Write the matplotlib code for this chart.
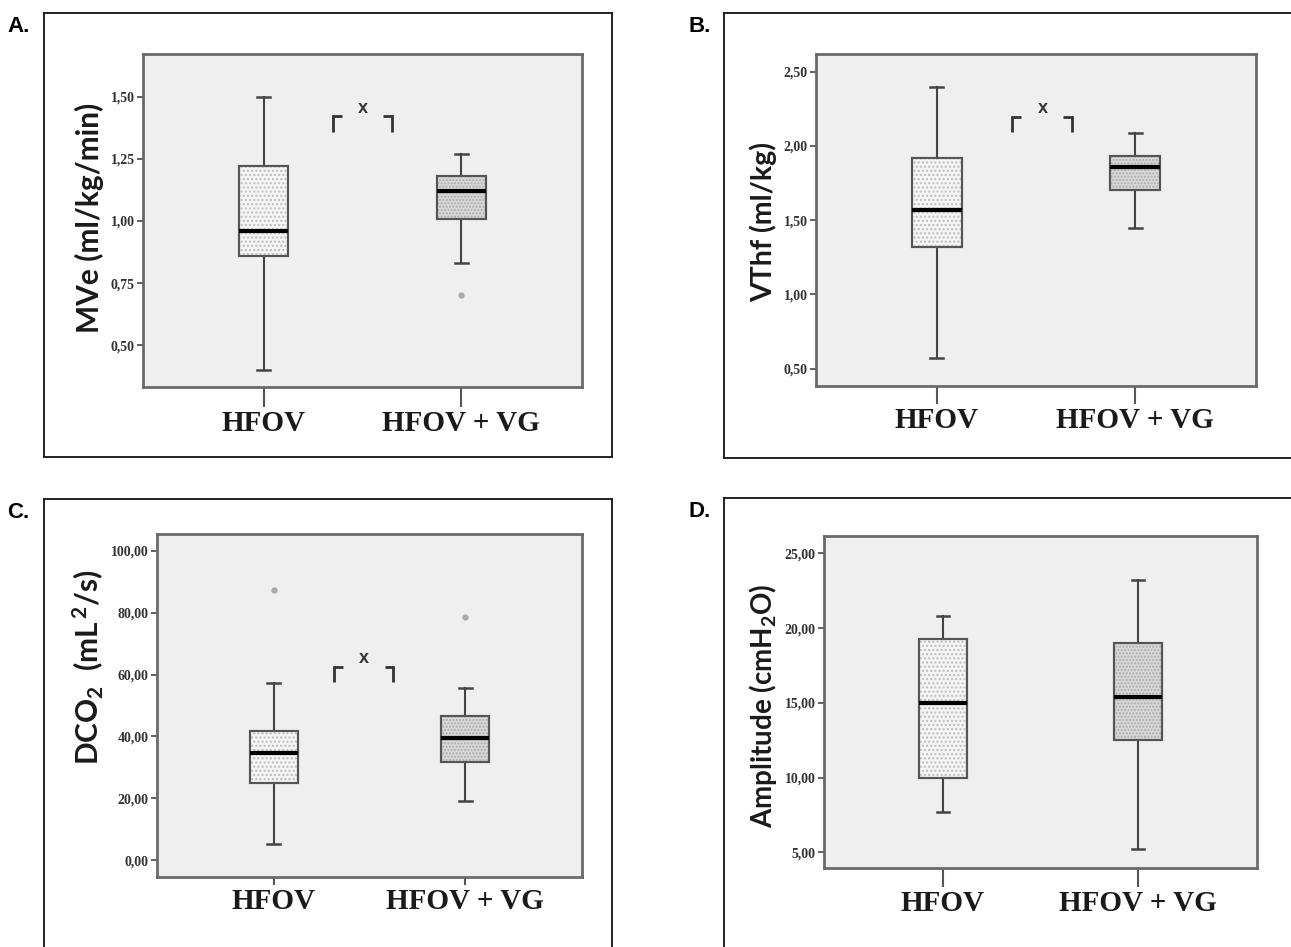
import matplotlib
matplotlib.use("Agg")
import matplotlib.pyplot as plt
from matplotlib.lines import Line2D
from matplotlib.patches import PathPatch
from matplotlib.ticker import FixedLocator, FuncFormatter

plt.rcParams["mathtext.fontset"] = "custom"
plt.rcParams["mathtext.rm"] = "Lato:bold"
plt.rcParams["mathtext.it"] = "Lato:bold"
plt.rcParams["mathtext.bf"] = "Lato:bold"
plt.rcParams["mathtext.default"] = "rm"

# ---------------- data ----------------
categories = ["HFOV", "HFOV + VG"]

# Panel A: MVe (ml/kg/min)
a_whislo = [0.40, 0.83]
a_q1 = [0.86, 1.01]
a_med = [0.96, 1.12]
a_q3 = [1.22, 1.18]
a_whishi = [1.50, 1.27]
a_fliers = [[], [0.70]]
a_ticks = [0.50, 0.75, 1.00, 1.25, 1.50]

# Panel B: VThf (ml/kg)
b_whislo = [0.57, 1.45]
b_q1 = [1.32, 1.70]
b_med = [1.57, 1.86]
b_q3 = [1.92, 1.93]
b_whishi = [2.40, 2.09]
b_fliers = [[], []]
b_ticks = [0.50, 1.00, 1.50, 2.00, 2.50]

# Panel C: DCO2 (mL2/s)
c_whislo = [5.4, 19.1]
c_q1 = [25.0, 31.7]
c_med = [34.8, 39.5]
c_q3 = [41.8, 46.5]
c_whishi = [57.3, 55.7]
c_fliers = [[87.3], [78.7]]
c_ticks = [0.0, 20.0, 40.0, 60.0, 80.0, 100.0]

# Panel D: Amplitude (cmH2O)
d_whislo = [7.7, 5.2]
d_q1 = [10.0, 12.5]
d_med = [15.0, 15.4]
d_q3 = [19.3, 19.0]
d_whishi = [20.8, 23.2]
d_fliers = [[], []]
d_ticks = [5.0, 10.0, 15.0, 20.0, 25.0]

# significance brackets: (x_left, x_right, y_bottom, y_top, x_mark, y_mark)
a_sig = (1.35, 1.65, 1.359, 1.423, 1.50, 1.454)
b_sig = (1.38, 1.68, 2.092, 2.197, 1.535, 2.255)
c_sig = (1.315, 1.625, 57.6, 62.4, 1.47, 65.1)

# ---------------- figure ----------------
W, H = 1291, 947
fig = plt.figure(figsize=(W / 100, H / 100), dpi=100)
fig.patch.set_facecolor("white")


def fx(px):
    return px / W


def fy(py):
    return 1 - py / H


def fline(x0, y0, x1, y1):
    fig.add_artist(Line2D([fx(x0), fx(x1)], [fy(y0), fy(y1)],
                          transform=fig.transFigure, color="#222222", lw=1.4))


# outer frames
fline(44, 13, 612, 13); fline(44, 13, 44, 457); fline(612, 13, 612, 457); fline(44, 457, 612, 457)
fline(724, 13, 1291, 13); fline(724, 13, 724, 458); fline(724, 458, 1291, 458)
fline(44, 499, 612, 499); fline(44, 499, 44, 947); fline(612, 499, 612, 947)
fline(724, 498, 1291, 498); fline(724, 498, 724, 947)

for lab, x, y in [("A.", 7, 32), ("B.", 688, 32), ("C.", 7, 518), ("D.", 688, 517)]:
    fig.text(fx(x), fy(y), lab, fontsize=16, fontweight="bold",
             family=["Liberation Sans", "DejaVu Sans"], va="baseline", ha="left")

fmt = FuncFormatter(lambda v, p: f"{v:.2f}".replace(".", ","))


def panel(rect_px, whislo, q1, med, q3, whishi, fliers, ticks, ylim, ylabel,
          lab_xy, lab_size, xtick_len, sig):
    l, t, r, b = rect_px
    ax = fig.add_axes([fx(l), fy(b), fx(r - l), (b - t) / H])
    ax.set_facecolor("#efefef")
    stats = []
    for i in range(len(categories)):
        stats.append(dict(whislo=whislo[i], q1=q1[i], med=med[i], q3=q3[i],
                          whishi=whishi[i], fliers=fliers[i], label=categories[i]))
    res = ax.bxp(stats, positions=[1, 2], widths=0.25, patch_artist=True,
                 showfliers=True, capwidths=0.066,
                 boxprops=dict(edgecolor="#555555", linewidth=1.5),
                 medianprops=dict(color="black", linewidth=3),
                 whiskerprops=dict(color="#444444", linewidth=1.5),
                 capprops=dict(color="#444444", linewidth=1.8),
                 flierprops=dict(marker="o", markersize=3.5, markerfacecolor="#aaaaaa",
                                 markeredgecolor="#aaaaaa"))
    faces = ["#f4f4f4", "#d8d8d8"]
    hatches = ["....", "....."]
    hcols = ["#bcbcbc", "#ababab"]
    for box, fc, hh, hc in zip(res["boxes"], faces, hatches, hcols):
        box.set_facecolor(fc)
        box.set_zorder(2)
        ov = PathPatch(box.get_path(), transform=box.get_transform(),
                       facecolor="none", edgecolor=hc, lw=0, hatch=hh, zorder=2.1)
        ax.add_patch(ov)
        box2 = PathPatch(box.get_path(), transform=box.get_transform(),
                         facecolor="none", edgecolor="#555555", lw=1.5, zorder=2.2)
        ax.add_patch(box2)
    for m in res["medians"]:
        m.set_zorder(3)
    ax.set_xlim(0.39, 2.61)
    ax.set_ylim(*ylim)
    ax.yaxis.set_major_locator(FixedLocator(ticks))
    ax.yaxis.set_major_formatter(fmt)
    ax.set_xticks([1, 2])
    ax.set_xticklabels(categories)
    for s in ax.spines.values():
        s.set_color("#6a6a6a")
        s.set_linewidth(2)
    ax.tick_params(axis="y", direction="out", length=4.5, width=1.3, color="#555555",
                   pad=1.5, labelsize=10, labelcolor="#333333")
    ax.tick_params(axis="x", direction="out", length=xtick_len, width=1.5,
                   color="#555555", pad=2, labelsize=21)
    for tl in ax.get_yticklabels():
        tl.set_family(["Liberation Serif", "DejaVu Serif"])
        tl.set_fontweight("bold")
    for tl in ax.get_xticklabels():
        tl.set_family(["Liberation Serif", "DejaVu Serif"])
        tl.set_fontweight("bold")
        tl.set_color("#1a1a1a")
    ax.text(lab_xy[0], lab_xy[1], ylabel, transform=ax.transAxes, rotation=90,
            ha="center", va="center", fontsize=lab_size, fontweight="bold",
            family=["Lato", "DejaVu Sans"], color="#1a1a1a")
    if sig is not None:
        xl, xr, yb, yt, xm, ym = sig
        dx = 0.045
        ax.plot([xl, xl, xl + dx], [yb, yt, yt], color="#333333", lw=2,
                solid_joinstyle="miter", solid_capstyle="butt")
        ax.plot([xr - dx, xr, xr], [yt, yt, yb], color="#333333", lw=2,
                solid_joinstyle="miter", solid_capstyle="butt")
        ax.text(xm, ym, "x", ha="center", va="center", fontsize=13, fontweight="bold",
                family=["Liberation Sans", "DejaVu Sans"], color="#333333")
    return ax


panel((143, 54, 582, 387), a_whislo, a_q1, a_med, a_q3, a_whishi, a_fliers, a_ticks,
      (0.331, 1.673), "MVe (ml/kg/min)", (-0.121, 0.507), 21.5, 14.4, a_sig)
panel((816, 54, 1256, 386), b_whislo, b_q1, b_med, b_q3, b_whishi, b_fliers, b_ticks,
      (0.383, 2.619), "VThf (ml/kg)", (-0.12, 0.494), 20.5, 13.0, b_sig)
panel((157, 534, 582, 877), c_whislo, c_q1, c_med, c_q3, c_whishi, c_fliers, c_ticks,
      (-5.4, 105.4), r"DCO$_{2}$  (mL$^{\,2}$/s)", (-0.162, 0.61), 21.5, 6.0, c_sig)
panel((824, 536, 1257, 868), d_whislo, d_q1, d_med, d_q3, d_whishi, d_fliers, d_ticks,
      (3.96, 26.16), r"Amplitude (cmH$_{2}$O)", (-0.141, 0.488), 20, 13.7, None)

fig.savefig("out.png", dpi=100, facecolor="white")
